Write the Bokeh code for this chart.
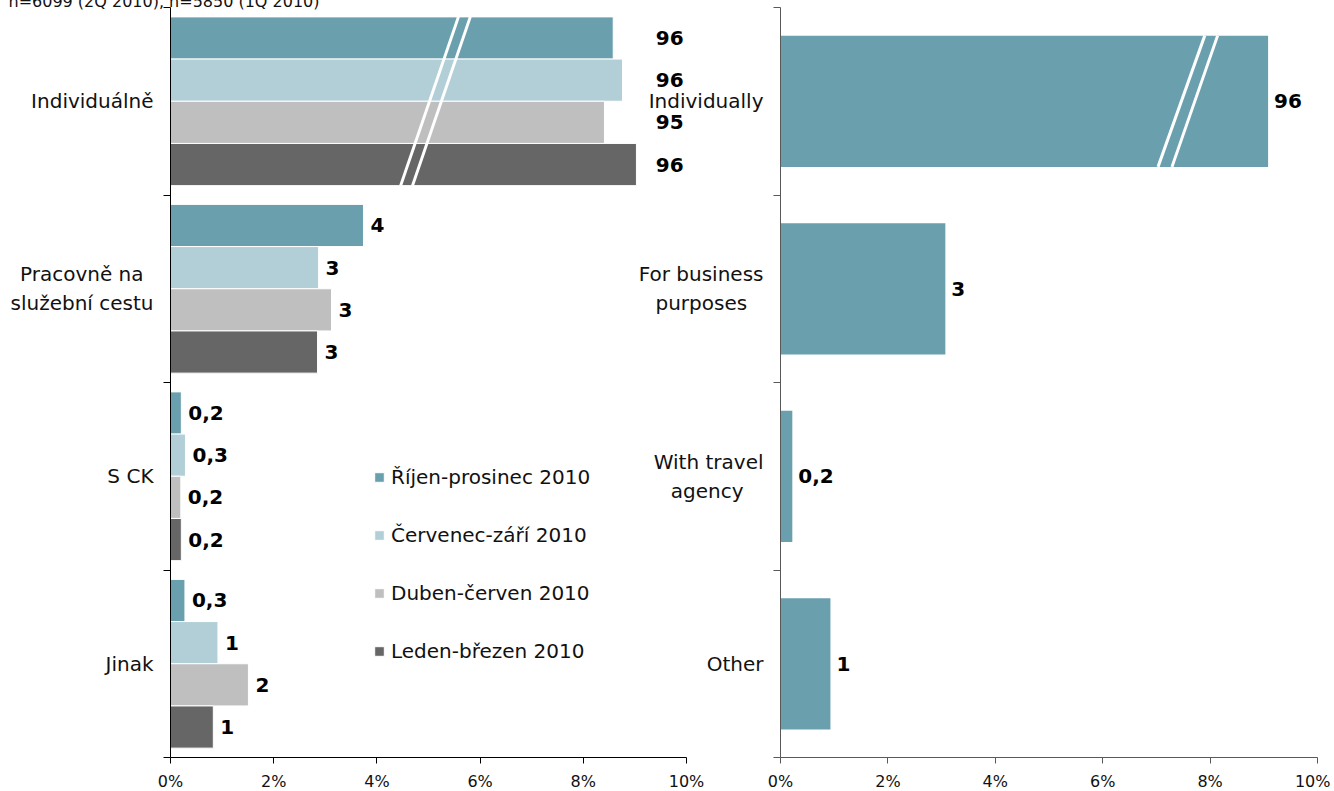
from bokeh.plotting import figure
from bokeh.models import Range1d, FixedTicker, Legend, LegendItem, ColumnDataSource
from bokeh.layouts import row
from bokeh.embed import file_html
from bokeh.resources import INLINE
from bokeh.core.properties import value

# ---------------- data ----------------
caption = "n=6099 (2Q 2010), n=5850 (1Q 2010)"
# (the short first line of a two-line label is padded with a wide space so that
#  the lines look centred, as in the original)
categories_cz = ["Individuálně", "Pracovně na\u2002\nslužební cestu", "S CK", "Jinak"]
series_names = ["Říjen-prosinec 2010", "Červenec-září 2010", "Duben-červen 2010", "Leden-březen 2010"]
oct_dec_2010 = [96, 3.74, 0.21, 0.28]
jul_sep_2010 = [96, 2.87, 0.29, 0.92]
apr_jun_2010 = [95, 3.12, 0.20, 1.51]
jan_mar_2010 = [96, 2.85, 0.21, 0.83]
# drawn lengths of the bars that cross the axis break (first category)
broken_len_cz = [8.58, 8.76, 8.41, 9.03]

categories_en = ["Individually", "For business\npurposes\u2002\u00a0", "With travel\nagency\u2003", "Other"]
oct_dec_2010_en = [96, 3.07, 0.22, 0.93]
broken_len_en = [9.08]

x_ticks = [0, 2, 4, 6, 8, 10]
x_tick_labels = ["0%", "2%", "4%", "6%", "8%", "10%"]
colors = ["#6A9FAD", "#B2CFD7", "#BFBFBF", "#666666"]

FONT = "DejaVu Sans"
AXIS_MAX = 10


def fmt(v):
    if v < 0.5:
        return f"{v:.1f}".replace(".", ",")
    return str(int(round(v)))


def base_figure(frame_width, min_left, min_right, axis_color, title_text):
    p = figure(frame_width=frame_width, frame_height=750,
               min_border_left=min_left, min_border_right=min_right,
               min_border_top=0, min_border_bottom=33,
               x_range=Range1d(0, AXIS_MAX), y_range=Range1d(0, 2 * len(categories_cz)),
               output_backend="svg", toolbar_location=None, tools="")
    p.xgrid.visible = False
    p.ygrid.visible = False
    p.outline_line_color = None
    p.background_fill_alpha = 0
    p.border_fill_alpha = 0
    p.title.text = title_text
    p.title.align = "left"
    p.title.offset = 8 - min_left
    p.title.standoff = -7
    p.title.text_font = FONT
    p.title.text_font_size = "16px"
    p.title.text_font_style = "normal"
    p.title.text_color = "#111111"
    # x axis
    xa = p.xaxis[0]
    xa.ticker = FixedTicker(ticks=x_ticks)
    xa.major_label_overrides = {t: l for t, l in zip(x_ticks, x_tick_labels)}
    xa.minor_tick_line_color = None
    xa.major_tick_out = 6
    xa.major_tick_in = 0
    xa.major_label_standoff = 8
    xa.axis_line_color = axis_color
    xa.major_tick_line_color = axis_color
    xa.major_label_text_font = FONT
    xa.major_label_text_font_size = "16px"
    xa.major_label_text_color = "#111111"
    return p


def style_yaxis(p, labels, axis_color):
    n = len(labels)
    centers = [2 * (n - 1 - i) + 1 for i in range(n)]
    ya = p.yaxis[0]
    ya.ticker = FixedTicker(ticks=centers, minor_ticks=list(range(0, 2 * n + 1, 2)))
    ya.major_label_overrides = {c: l for c, l in zip(centers, labels)}
    ya.major_tick_in = 0
    ya.major_tick_out = 0
    ya.minor_tick_in = 0
    ya.minor_tick_out = 7
    ya.minor_tick_line_color = axis_color
    ya.axis_line_color = axis_color
    ya.major_label_standoff = 10
    ya.major_label_text_font = FONT
    ya.major_label_text_font_size = "20px"
    ya.major_label_text_line_height = 1.2
    ya.major_label_text_color = "#111111"
    return centers


# ---------------- left panel ----------------
p1 = base_figure(516, 170, 20, "#000000", caption)
centers = style_yaxis(p1, categories_cz, "#000000")
series_vals = [oct_dec_2010, jul_sep_2010, apr_jun_2010, jan_mar_2010]
bar_h = 0.45
offsets = [0.675, 0.225, -0.225, -0.675]
renderers = []
for j, vals in enumerate(series_vals):
    ys = [c + offsets[j] for c in centers]
    drawn = [broken_len_cz[j] if v > AXIS_MAX else v for v in vals]
    lab_x = [9.27 if v > AXIS_MAX else d for v, d in zip(vals, drawn)]
    src = ColumnDataSource(dict(y=ys, right=drawn, lx=lab_x, txt=[fmt(v) for v in vals]))
    r = p1.hbar(y="y", left=0, right="right", height=bar_h, source=src,
                fill_color=colors[j], line_color="white", line_width=1)
    renderers.append(r)
    p1.text(x="lx", y="y", text="txt", source=src, x_offset=7,
            text_font=value(FONT), text_font_style="bold", text_font_size="20px",
            text_align="left", text_baseline="middle", text_color="#000000")

# axis-break marks across the first category
top_y = centers[0] + 0.9
bot_y = centers[0] - 0.9
p1.segment(x0=[5.58, 5.81], y0=[top_y, top_y], x1=[4.46, 4.69], y1=[bot_y, bot_y],
           line_color="white", line_width=3)

legend = Legend(items=[LegendItem(label=s, renderers=[r]) for s, r in zip(series_names, renderers)],
                location=(203, 94), glyph_width=12, glyph_height=12, label_height=20,
                spacing=34, padding=0, margin=0, label_standoff=6,
                border_line_color=None, background_fill_alpha=0,
                label_text_font=FONT, label_text_font_size="20px", label_text_color="#111111")
p1.add_layout(legend)

# ---------------- right panel ----------------
p2 = base_figure(537, 150, 13, "#595959", " ")
centers2 = style_yaxis(p2, categories_en, "#595959")
drawn2 = [broken_len_en[0] if v > AXIS_MAX else v for v in oct_dec_2010_en]
src2 = ColumnDataSource(dict(y=centers2, right=drawn2, txt=[fmt(v) for v in oct_dec_2010_en]))
p2.hbar(y="y", left=0, right="right", height=1.4, source=src2,
        fill_color=colors[0], line_color=None)
p2.text(x="right", y="y", text="txt", source=src2, x_offset=6,
        text_font=value(FONT), text_font_style="bold", text_font_size="20px",
        text_align="left", text_baseline="middle", text_color="#000000")
t2 = centers2[0] + 0.7
b2 = centers2[0] - 0.7
p2.segment(x0=[7.90, 8.14], y0=[t2, t2], x1=[7.03, 7.29], y1=[b2, b2],
           line_color="white", line_width=3)

p2.margin = (0, 0, 0, -76)
layout = row(p1, p2)
layout.margin = (-7, 0, 0, 0)

open("out.html", "w").write(file_html(layout, INLINE))
